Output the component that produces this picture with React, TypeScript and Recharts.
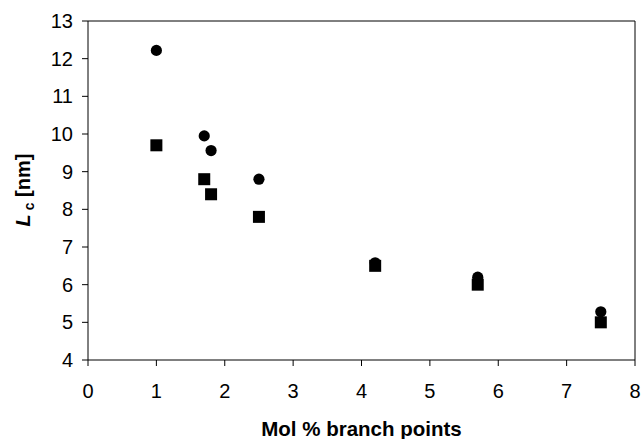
import React from "react";
import {
  ScatterChart,
  Scatter,
  XAxis,
  YAxis,
  ReferenceLine,
} from "recharts";

// branch point content (mol %)
const branchPoints = [1, 1.7, 1.8, 2.5, 4.2, 5.7, 7.5];
// crystal thickness, two series
const lcCircles = [12.22, 9.95, 9.56, 8.8, 6.58, 6.2, 5.28];
const lcSquares = [9.7, 8.8, 8.4, 7.8, 6.5, 6.0, 5.0];

const xTicks = [0, 1, 2, 3, 4, 5, 6, 7, 8];
const yTicks = [4, 5, 6, 7, 8, 9, 10, 11, 12, 13];

const circleData = branchPoints.map((x, i) => ({ x, y: lcCircles[i] }));
const squareData = branchPoints.map((x, i) => ({ x, y: lcSquares[i] }));

const FONT = "'Liberation Sans', Arial, sans-serif";

const CircleShape = (props: any) => (
  <circle cx={props.cx} cy={props.cy} r={5.6} fill="#000" />
);
const SquareShape = (props: any) => (
  <rect x={props.cx - 6} y={props.cy - 6} width={12} height={12} fill="#000" />
);

const YLabel = () => (
  <text
    x={0}
    y={0}
    transform="translate(30,190) rotate(-90)"
    textAnchor="middle"
    fontFamily={FONT}
    fontWeight="bold"
    fontSize={20}
    fill="#000"
  >
    <tspan fontStyle="italic">L</tspan>
    <tspan fontSize={14} dy={4}> c</tspan>
    <tspan dy={-4}> [nm]</tspan>
  </text>
);

export default function App() {
  return (
    <div style={{ position: "absolute", left: 0, top: 0, background: "#fff" }}>
      <ScatterChart
        width={643}
        height={439}
        margin={{ top: 21, right: 8, bottom: 0, left: 0 }}
      >
        <XAxis
          type="number"
          dataKey="x"
          domain={[0, 8]}
          ticks={xTicks}
          interval={0}
          stroke="#000"
          tickSize={6}
          tickMargin={18}
          height={79}
          tick={{ fill: "#000", fontSize: 20, fontFamily: FONT }}
          label={{
            value: "Mol % branch points",
            position: "insideBottom",
            offset: 3,
            fill: "#000",
            fontSize: 20.5,
            fontWeight: "bold",
            fontFamily: FONT,
          }}
        />
        <YAxis
          type="number"
          dataKey="y"
          domain={[4, 13]}
          ticks={yTicks}
          interval={0}
          stroke="#000"
          tickSize={6}
          tickMargin={9}
          width={88}
          tick={{ fill: "#000", fontSize: 20, fontFamily: FONT }}
          label={<YLabel />}
        />
        <ReferenceLine y={13} stroke="#000" />
        <ReferenceLine x={8} stroke="#000" />
        <Scatter
          data={circleData}
          shape={<CircleShape />}
          isAnimationActive={false}
        />
        <Scatter
          data={squareData}
          shape={<SquareShape />}
          isAnimationActive={false}
        />
      </ScatterChart>
    </div>
  );
}
